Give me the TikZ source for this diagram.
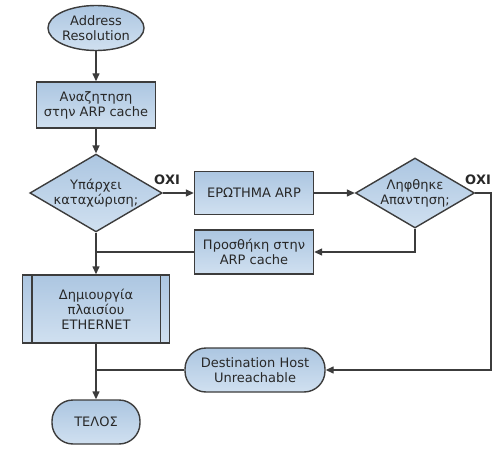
\documentclass[tikz,border=0pt]{standalone}
\usepackage{fontspec}
\setmainfont{DejaVu Sans}
\usepackage{xcolor}
\usetikzlibrary{shapes.geometric,arrows.meta}

\definecolor{boxtop}{RGB}{172,198,225}
\definecolor{boxbot}{RGB}{208,224,240}
\definecolor{edge}{RGB}{60,60,60}
\definecolor{ink}{RGB}{40,40,40}

\tikzset{
  base/.style={draw=edge, line width=1.4pt, top color=boxtop, bottom color=boxbot,
    align=center, inner sep=0pt, text=ink, font=\fontsize{13}{15}\selectfont},
  procbox/.style={base, rectangle, minimum width=119pt, minimum height=46pt},
  decision/.style={base, diamond, aspect=1.7, minimum width=119pt, minimum height=70pt},
  terminal/.style={base, rectangle, rounded corners=21pt, minimum height=44pt},
  flow/.style={draw=edge, line width=1.4pt, -{Triangle[length=8pt,width=7pt]}},
  plain/.style={draw=edge, line width=1.4pt}
}

\begin{document}
\begin{tikzpicture}[x=1pt,y=-1pt]
    \useasboundingbox (0,0) rectangle (495,449);

    % Main column
    \node[base, ellipse, minimum width=87pt, minimum height=45pt] (start) at (96,28) {Address\\Resolution};
    \node[procbox] (search) at (96,105) {Αναζητηση\\στην ARP cache};
    \node[decision] (exists) at (96,193) {Υπάρχει\\καταχώριση;};
    \node[procbox, minimum width=147pt, minimum height=68pt] (create) at (96,309) {Δημιουργία\\πλαισίου\\ETHERNET};
    \node[terminal, minimum width=88pt] (done) at (96,422) {ΤΕΛΟΣ};

    % Double sides of the process box
    \draw[plain] ([xshift=10pt]create.north west) -- ([xshift=10pt]create.south west);
    \draw[plain] ([xshift=-10pt]create.north east) -- ([xshift=-10pt]create.south east);

    % ARP request branch
    \node[procbox, minimum height=43pt] (query) at (254,193) {ΕΡΩΤΗΜΑ ARP};
    \node[decision] (reply) at (415,193) {Ληφθηκε\\Απαντηση;};
    \node[procbox, minimum height=44pt] (add) at (254,252) {Προσθήκη στην\\ARP cache};
    \node[terminal, minimum width=140pt] (unreach) at (255,370) {Destination Host\\Unreachable};

    % Connectors
    \draw[flow] (start) -- (search);
    \draw[flow] (search) -- (exists);
    \draw[flow] (exists.east) -- (query.west);
    \draw[flow] (query.east) -- (reply.west);
    \draw[flow] (reply.south) |- (add.east);
    \draw[plain] (add.west) -- (exists.south |- add.west);
    \draw[flow] (exists.south) -- (create.north);
    \draw[flow] (reply.east) -- (491,193) |- (unreach.east);
    \draw[plain] (unreach.west) -- (create.south |- unreach.west);
    \draw[flow] (create.south) -- (done.north);

    % Labels
    \node[text=ink, font=\fontsize{13}{15}\selectfont\bfseries] (no1) at (167,180) {ΟΧΙ};
    \node[text=ink, font=\fontsize{13}{15}\selectfont\bfseries] (no2) at (478,180) {ΟΧΙ};
\end{tikzpicture}
\end{document}
